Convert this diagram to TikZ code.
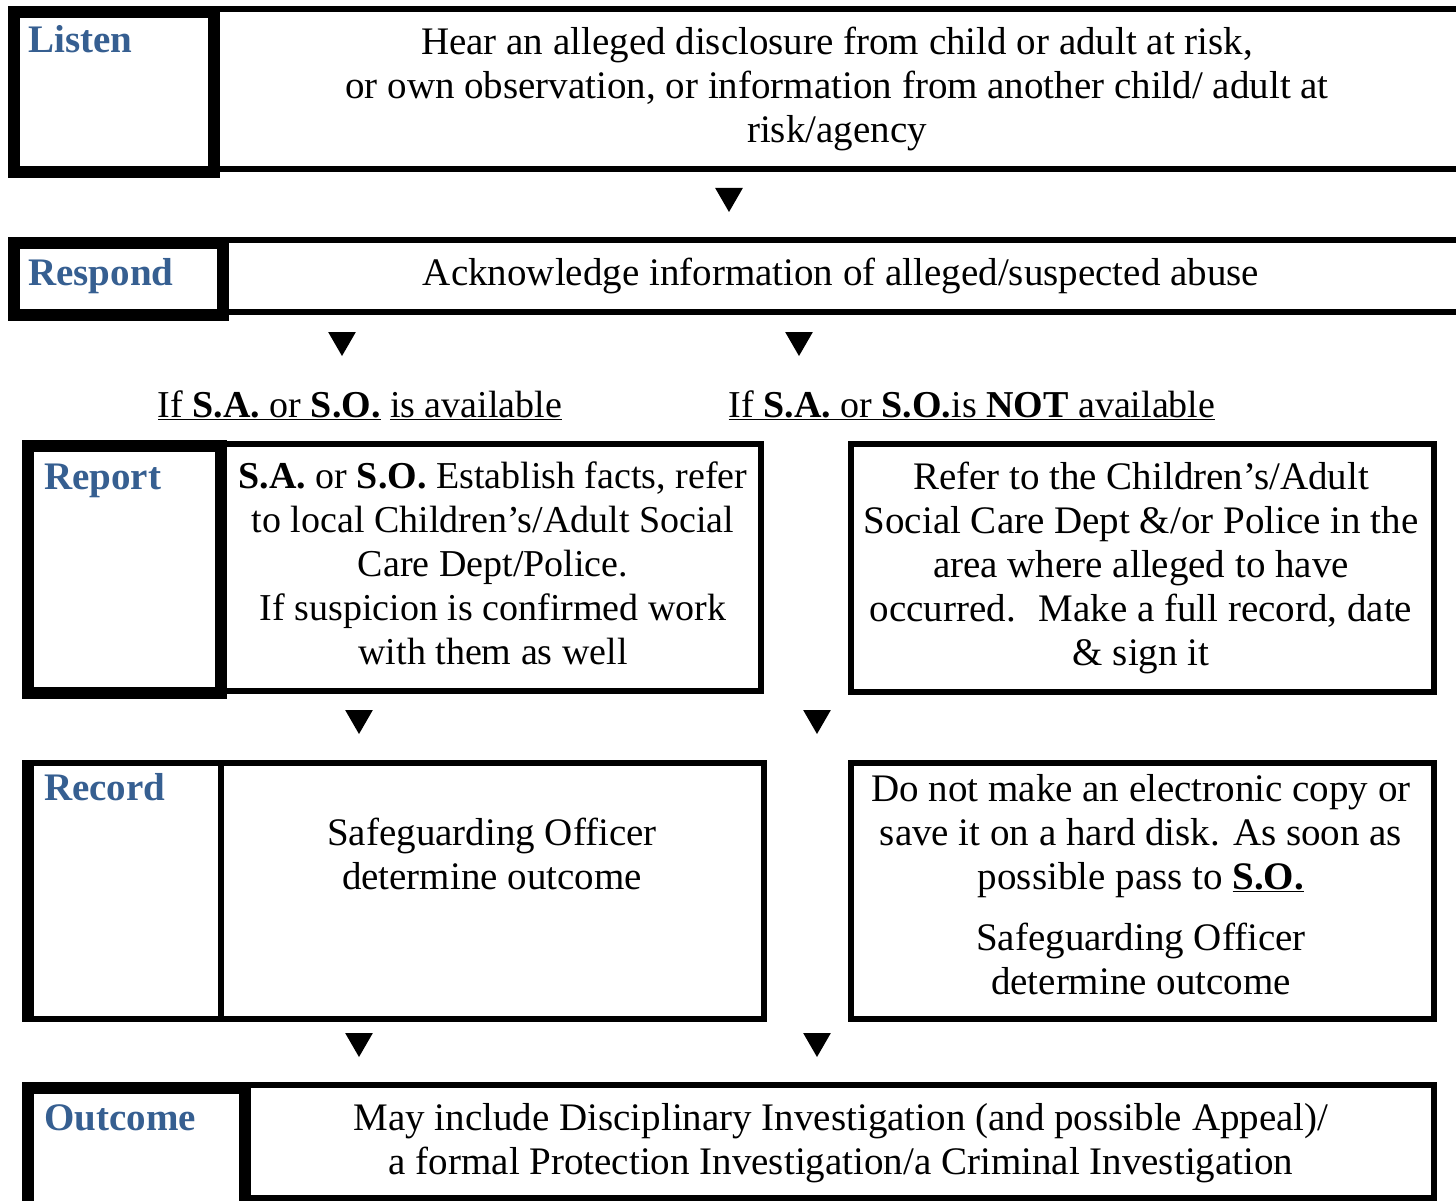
\documentclass[tikz,border=0pt]{standalone}
\usepackage{fontspec}
\setmainfont{Liberation Serif}
\usetikzlibrary{shapes.geometric}
\definecolor{stageblue}{HTML}{365F91}
\tikzset{
    stagebox/.style = {rectangle,
                    fill=white,
                    draw=black,
                    line width=12pt,
                    inner sep=0pt,
                    outer sep=0pt,
                    anchor=north west},
    textbox/.style = {rectangle,
                    fill=white,
                    draw=black,
                    line width=6pt,
                    inner sep=0pt,
                    outer sep=0pt,
                    anchor=north west},
    stage/.style =  {text=stageblue,
                    font=\bfseries\fontsize{39}{44}\selectfont,
                    inner sep=0pt,
                    anchor=base west},
    body/.style =   {align=center,
                    font=\fontsize{39}{44}\selectfont,
                    execute at begin node=\strut,
                    inner sep=0pt,
                    anchor=north},
    narrow/.style = {font=\fontsize{38}{44}\selectfont},
    pointer/.style = {regular polygon,
                    regular polygon sides=3,
                    shape border rotate=180,
                    fill=black,
                    inner sep=0pt,
                    minimum size=32pt}
}
\begin{document}
\begin{tikzpicture}[x=1pt,y=-1pt]
    \useasboundingbox (0,0) rectangle (1456,1201);
    % listen
    \node[textbox]  (listenbox) [minimum width=1263pt, minimum height=160pt] at (217,9) {};
    \node[stagebox] (listen)    [minimum width=200pt, minimum height=160pt] at (14,12) {};
    \node[stage]    (listenname) at (28,53) {Listen};
    \node[body]     (listentext) at (837,27) {Hear an alleged disclosure from child or adult at risk,\\or own observation, or information from another child/ adult at\\risk/agency};
    \node[pointer]  (p1) at (729,196) {};
    % respond
    \node[textbox]  (respondbox) [minimum width=1254pt, minimum height=72pt] at (226,240) {};
    \node[stagebox] (respond)    [minimum width=209pt, minimum height=72pt] at (14,243) {};
    \node[stage]    (respondname) at (28,285) {Respond};
    \node[body]     (respondtext) at (841,254) {Acknowledge information of alleged/suspected abuse};
    \node[pointer]  (p2) at (342,340) {};
    \node[pointer]  (p3) at (799,340) {};
    \node[body,narrow] (ifyes) at (360,386) {\underline{If \textbf{S.A.} or \textbf{S.O.}} \underline{is available}};
    \node[body,narrow] (ifno)  at (972,386) {\underline{If \textbf{S.A.} or \textbf{S.O.}is \textbf{NOT} available}};
    % report
    \node[textbox]  (reportbox) [minimum width=537pt, minimum height=247pt] at (224,444) {};
    \node[stagebox] (report)    [minimum width=193pt, minimum height=247pt] at (28,446) {};
    \node[stage]    (reportname) at (44,489) {Report};
    \node[body,narrow] (reporttext) at (493,462) {\textbf{S.A.} or \textbf{S.O.} Establish facts, refer\\to local Children’s/Adult Social\\Care Dept/Police.\\If suspicion is confirmed work\\with them as well};
    \node[textbox]  (referbox)  [minimum width=583pt, minimum height=248pt] at (851,444) {};
    \node[body]     (refertext) at (1141,462) {Refer to the Children’s/Adult\\Social Care Dept \&/or Police in the\\area where alleged to have\\occurred.~ Make a full record, date\\\& sign it};
    \node[pointer]  (p4) at (359,718) {};
    \node[pointer]  (p5) at (817,718) {};
    % record
    \node[textbox]  (recordbox) [minimum width=543pt, minimum height=256pt] at (221,763) {};
    \node[textbox]  (record)    [minimum width=193pt, minimum height=256pt] at (28,763) {};
    \draw[line width=12pt] ([yshift=3pt]record.north west) -- ([yshift=-3pt]record.south west);
    \node[stage]    (recordname) at (44,800) {Record};
    \node[body]     (recordtext) at (492,818) {Safeguarding Officer\\determine outcome};
    \node[textbox]  (copybox)   [minimum width=583pt, minimum height=256pt] at (851,763) {};
    \node[body]     (copytext)  at (1141,774) {Do not make an electronic copy or\\save it on a hard disk. As soon as\\possible pass to \underline{\textbf{S.O.}}\\[17pt]Safeguarding Officer\\determine outcome};
    \node[pointer]  (p6) at (359,1041) {};
    \node[pointer]  (p7) at (817,1041) {};
    % outcome
    \node[textbox]  (outcomebox) [minimum width=1186pt, minimum height=113pt] at (248,1085) {};
    \node[stagebox] (outcome)    [minimum width=217pt, minimum height=119pt] at (28,1088) {};
    \node[stage]    (outcomename) at (44,1130) {Outcome};
    \node[body]     (outcometext) at (841,1103) {May include Disciplinary Investigation (and possible Appeal)/\\a formal Protection Investigation/a Criminal Investigation};
\end{tikzpicture}
\end{document}
